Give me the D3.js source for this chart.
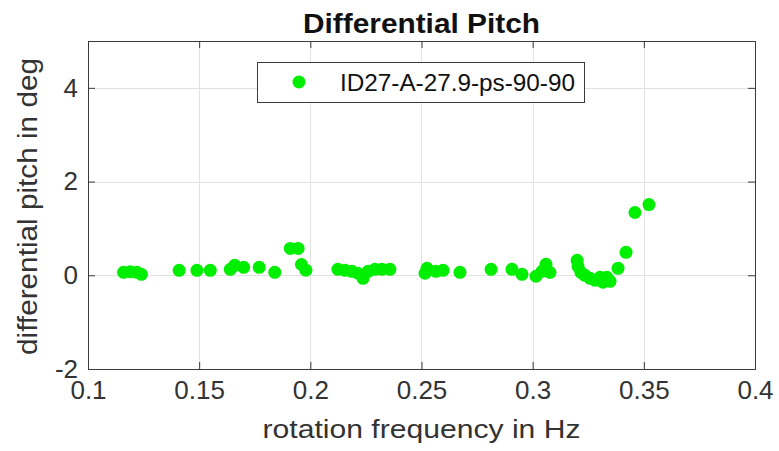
<!DOCTYPE html>
<html>
<head>
<meta charset="utf-8">
<script src="https://cdn.jsdelivr.net/npm/d3@7"></script>
<style>
  body { margin: 0; background: #fff; }
  text { font-family: "Liberation Sans", Arial, Helvetica, sans-serif; }
</style>
</head>
<body>
<svg id="chart" width="779" height="451"></svg>
<script>
// Rotation frequency (Hz) of each measurement
const freq = [
  0.116, 0.119, 0.122, 0.124,
  0.141, 0.149, 0.155,
  0.164, 0.166, 0.170, 0.177, 0.184,
  0.191, 0.1945, 0.196, 0.198,
  0.2124, 0.2156, 0.2187, 0.2214, 0.2237, 0.226, 0.2291, 0.2322, 0.2358,
  0.2516, 0.2525, 0.2565, 0.2597, 0.2673,
  0.2813, 0.2907, 0.2952, 0.3015, 0.3042, 0.306, 0.3078,
  0.320, 0.3204, 0.3217, 0.3235, 0.3258, 0.328, 0.3303, 0.3316, 0.3334, 0.3348,
  0.3384, 0.342, 0.346, 0.3523
];
// Differential pitch (deg) for each measurement
const pitch = [
  0.064, 0.075, 0.064, 0.02,
  0.106, 0.106, 0.106,
  0.128, 0.213, 0.17, 0.17, 0.064,
  0.574, 0.574, 0.23, 0.11,
  0.128, 0.106, 0.085, 0.043, -0.064, 0.085, 0.128, 0.128, 0.128,
  0.043, 0.15, 0.085, 0.106, 0.064,
  0.128, 0.128, 0.02, -0.02, 0.085, 0.234, 0.06,
  0.319, 0.191, 0.064, 0.0, -0.064, -0.106, -0.043, -0.149, -0.043, -0.128,
  0.149, 0.489, 1.34, 1.51
];

const xTicks = [0.1, 0.15, 0.2, 0.25, 0.3, 0.35, 0.4];
const yTicks = [-2, 0, 2, 4];
const seriesName = "ID27-A-27.9-ps-90-90";
const titleText = "Differential Pitch";
const xLabel = "rotation frequency in Hz";
const yLabel = "differential pitch in deg";

const box = { left: 88, right: 755, top: 41, bottom: 369 };
const axisColor = "#3a3a3a";
const textColor = "#333";
const markerColor = "#00ee00";

const svg = d3.select("#chart");
svg.append("rect").attr("width", 779).attr("height", 451).attr("fill", "#fff");

const x = d3.scaleLinear().domain([0.1, 0.4]).range([box.left, box.right]);
const y = d3.scaleLinear().domain([-2, 5]).range([box.bottom, box.top]);

// grid
const grid = svg.append("g").attr("stroke", "#e2e2e2").attr("stroke-width", 1);
grid.selectAll("line.v").data(xTicks).join("line")
  .attr("class", "v")
  .attr("x1", d => Math.round(x(d)) + 0.5).attr("x2", d => Math.round(x(d)) + 0.5)
  .attr("y1", box.top).attr("y2", box.bottom);
grid.selectAll("line.h").data(yTicks).join("line")
  .attr("class", "h")
  .attr("y1", d => Math.round(y(d)) + 0.5).attr("y2", d => Math.round(y(d)) + 0.5)
  .attr("x1", box.left).attr("x2", box.right);

// axes with inward ticks on all four sides
function styleAxis(g) {
  g.select(".domain").remove();
  g.selectAll(".tick line").attr("stroke", axisColor);
  g.selectAll(".tick text")
    .attr("fill", textColor)
    .style("font-size", "26px");
}
const fmt = d => String(d);
svg.append("g").attr("transform", `translate(0,${box.bottom})`)
  .call(d3.axisBottom(x).tickValues(xTicks).tickFormat(fmt).tickSizeInner(-7).tickSizeOuter(0).tickPadding(12))
  .call(styleAxis);
svg.append("g").attr("transform", `translate(0,${box.top})`)
  .call(d3.axisTop(x).tickValues(xTicks).tickFormat("").tickSizeInner(-7).tickSizeOuter(0))
  .call(styleAxis);
svg.append("g").attr("transform", `translate(${box.left},0)`)
  .call(d3.axisLeft(y).tickValues(yTicks).tickFormat(fmt).tickSizeInner(-7).tickSizeOuter(0).tickPadding(10))
  .call(styleAxis);
svg.append("g").attr("transform", `translate(${box.right},0)`)
  .call(d3.axisRight(y).tickValues(yTicks).tickFormat("").tickSizeInner(-7).tickSizeOuter(0))
  .call(styleAxis);

// axes box
svg.append("rect")
  .attr("x", box.left + 0.5).attr("y", box.top + 0.5)
  .attr("width", box.right - box.left).attr("height", box.bottom - box.top)
  .attr("fill", "none").attr("stroke", axisColor).attr("stroke-width", 1);

// data points
svg.append("g").selectAll("circle").data(freq.map((f, i) => [f, pitch[i]])).join("circle")
  .attr("cx", d => x(d[0]))
  .attr("cy", d => y(d[1]))
  .attr("r", 6.5)
  .attr("fill", markerColor);

// title and axis labels
svg.append("text")
  .attr("x", (box.left + box.right) / 2).attr("y", 33)
  .attr("text-anchor", "middle")
  .attr("font-weight", "bold").style("font-size", "27px")
  .attr("fill", "#111")
  .attr("textLength", 237).attr("lengthAdjust", "spacingAndGlyphs")
  .text(titleText);

svg.append("text")
  .attr("x", (box.left + box.right) / 2).attr("y", 438)
  .attr("text-anchor", "middle")
  .style("font-size", "26px").attr("fill", textColor)
  .attr("textLength", 318).attr("lengthAdjust", "spacingAndGlyphs")
  .text(xLabel);

svg.append("text")
  .attr("transform", `translate(37,${(58 + 355) / 2}) rotate(-90)`)
  .attr("text-anchor", "middle")
  .style("font-size", "27px").attr("fill", textColor)
  .attr("textLength", 297).attr("lengthAdjust", "spacingAndGlyphs")
  .text(yLabel);

// legend
const legend = svg.append("g");
legend.append("rect")
  .attr("x", 257.5).attr("y", 62.5).attr("width", 327).attr("height", 40)
  .attr("fill", "#fff").attr("stroke", axisColor).attr("stroke-width", 1);
legend.append("circle").attr("cx", 299).attr("cy", 82).attr("r", 6.5).attr("fill", markerColor);
legend.append("text")
  .attr("x", 340).attr("y", 91)
  .style("font-size", "23px").attr("fill", "#111")
  .attr("textLength", 235).attr("lengthAdjust", "spacingAndGlyphs")
  .text(seriesName);
</script>
</body>
</html>
